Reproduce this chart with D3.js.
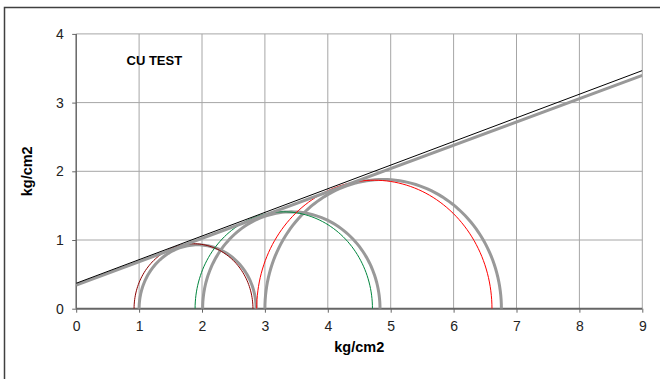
<!DOCTYPE html>
<html>
<head>
<meta charset="utf-8">
<script src="https://cdn.jsdelivr.net/npm/d3@7"></script>
<style>
body { margin: 0; background: #fff; }
svg { display: block; font-family: "Liberation Sans", Arial, sans-serif; }
</style>
</head>
<body>
<svg width="660" height="379"></svg>
<script>
// dati (kg/cm2)
var xTicks = [0, 1, 2, 3, 4, 5, 6, 7, 8, 9];
var yTicks = [0, 1, 2, 3, 4];

// cerchi colorati: sigma3 / sigma1
var sig3Col = [0.92, 1.89, 2.87];
var sig1Col = [2.81, 4.71, 6.61];
var coloriCerchi = ["#8b0000", "#00853e", "#ff0000"];

// cerchi grigi
var sig3Gr = [1.00, 2.01, 3.00];
var sig1Gr = [2.86, 4.83, 6.76];

// inviluppi: coesione e tan(phi)
var inviluppoNero = { c: 0.37, t: 0.344 };
var inviluppoGrigio = { c: 0.345, t: 0.339 };

var svg = d3.select("svg");

var x = d3.scaleLinear().domain([0, 9]).range([76.2, 642.3]);
var y = d3.scaleLinear().domain([0, 4]).range([308.7, 33.9]);

// cornice esterna
svg.append("rect")
	.attr("x", 4.5).attr("y", 7.5)
	.attr("width", 700).attr("height", 400)
	.attr("fill", "none")
	.attr("stroke", "#404040")
	.attr("stroke-width", 1.5);

// griglia
svg.append("g").selectAll("line")
	.data(xTicks.slice(1))
	.enter().append("line")
	.attr("x1", function(d){ return x(d); })
	.attr("x2", function(d){ return x(d); })
	.attr("y1", y(0)).attr("y2", y(4))
	.attr("stroke", "#a6a6a6").attr("stroke-width", 1);
svg.append("g").selectAll("line")
	.data(yTicks.slice(1))
	.enter().append("line")
	.attr("x1", x(0)).attr("x2", x(9))
	.attr("y1", function(d){ return y(d); })
	.attr("y2", function(d){ return y(d); })
	.attr("stroke", "#a6a6a6").attr("stroke-width", 1);

// assi
var assex = svg.append("g")
	.attr("transform", "translate(0," + y(0) + ")")
	.call(d3.axisBottom(x).tickValues(xTicks).tickSize(4).tickPadding(8.5).tickFormat(d3.format("d")));
var assey = svg.append("g")
	.attr("transform", "translate(" + x(0) + ",0)")
	.call(d3.axisLeft(y).tickValues(yTicks).tickSize(4).tickPadding(8.5).tickFormat(d3.format("d")));

[assex, assey].forEach(function(a){
	a.select(".domain").attr("stroke", "#666").attr("stroke-width", 2);
	a.selectAll(".tick line").attr("stroke", "#666");
	a.selectAll(".tick text")
		.attr("font-family", "'Liberation Sans', Arial, sans-serif")
		.attr("font-size", 14).attr("fill", "#222");
});
assex.select(".domain").attr("d", "M" + x(0) + ",0H" + x(9));
assey.select(".domain").attr("d", "M0," + y(4) + "V" + y(0)).attr("stroke-width", 1.5);

// area di disegno
svg.append("clipPath").attr("id", "area")
	.append("rect")
	.attr("x", x(0)).attr("y", y(4))
	.attr("width", x(9) - x(0)).attr("height", y(0) - y(4));
var g = svg.append("g").attr("clip-path", "url(#area)");

var angoli = d3.range(0, 181, 2);
function semicerchio(s3, s1){
	var c = (s3 + s1) / 2, r = (s1 - s3) / 2;
	return d3.line()
		.x(function(a){ return x(c + r * Math.cos(a * Math.PI / 180)); })
		.y(function(a){ return y(r * Math.sin(a * Math.PI / 180)); })(angoli);
}

// cerchi grigi
g.selectAll(".cerchioGr")
	.data(sig3Gr)
	.enter().append("path")
	.attr("class", "cerchioGr")
	.attr("d", function(d, i){ return semicerchio(d, sig1Gr[i]); })
	.attr("fill", "none")
	.attr("stroke", "#999")
	.attr("stroke-width", 3);

// cerchi colorati
g.selectAll(".cerchioCol")
	.data(sig3Col)
	.enter().append("path")
	.attr("class", "cerchioCol")
	.attr("d", function(d, i){ return semicerchio(d, sig1Col[i]); })
	.attr("fill", "none")
	.attr("stroke", function(d, i){ return coloriCerchi[i]; })
	.attr("stroke-width", 1);

// inviluppi
function retta(inv){
	return d3.line()
		.x(function(d){ return x(d); })
		.y(function(d){ return y(inv.c + inv.t * d); })([0, 9]);
}
g.append("path").attr("d", retta(inviluppoGrigio))
	.attr("fill", "none").attr("stroke", "#999").attr("stroke-width", 3);
g.append("path").attr("d", retta(inviluppoNero))
	.attr("fill", "none").attr("stroke", "#000").attr("stroke-width", 1);

// testi
svg.append("text")
	.attr("x", x(0.8)).attr("y", y(3.55))
	.attr("font-size", 13).attr("font-weight", "bold")
	.text("CU TEST");
svg.append("text")
	.attr("x", (x(0) + x(9)) / 2).attr("y", 352)
	.attr("text-anchor", "middle")
	.attr("font-size", 14.5).attr("font-weight", "bold")
	.text("kg/cm2");
svg.append("text")
	.attr("transform", "translate(32," + y(2) + ") rotate(-90)")
	.attr("text-anchor", "middle")
	.attr("font-size", 14.5).attr("font-weight", "bold")
	.text("kg/cm2");
</script>
</body>
</html>
